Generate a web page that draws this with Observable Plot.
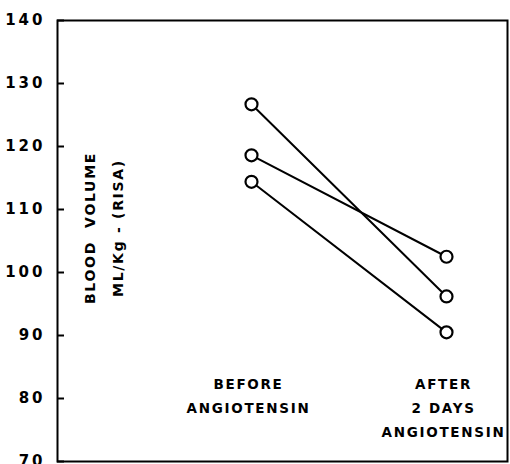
<!DOCTYPE html>
<html>
<head>
<meta charset="utf-8">
<script src="https://cdn.jsdelivr.net/npm/d3@7"></script>
<script src="https://cdn.jsdelivr.net/npm/@observablehq/plot@0.6"></script>
<style>
  html, body { margin: 0; padding: 0; background: #fff; }
</style>
</head>
<body>
<div id="chart"></div>
<script>
const categories = ["BEFORE", "AFTER"];
const categoryLabels = ["BEFORE\nANGIOTENSIN", "AFTER\n2 DAYS\nANGIOTENSIN"];
const subjects = ["A", "B", "C"];
const beforeValues = [126.7, 118.6, 114.4];
const afterValues = [96.2, 102.5, 90.5];
const yTicks = [70, 80, 90, 100, 110, 120, 130, 140];
const yTickLabels = ["70", "80", "90", "100", "110", "120", "130", "140"];
const yLabel = "BLOOD  VOLUME\nML/Kg - (RISA)";

const data = [];
subjects.forEach((s, i) => {
  data.push({subject: s, phase: categories[0], value: beforeValues[i]});
  data.push({subject: s, phase: categories[1], value: afterValues[i]});
});

const chart = Plot.plot({
  width: 510,
  height: 464,
  marginLeft: 57,
  marginTop: 20,
  marginBottom: 3,
  marginRight: 3,
  style: {fontFamily: "DejaVu Sans", fontWeight: "bold", color: "black", background: "white"},
  x: {type: "point", domain: categories, padding: 0.648, align: 0.76, axis: null, label: null},
  y: {domain: [70, 140], axis: null, label: null},
  marks: [
    Plot.frame({stroke: "black", strokeWidth: 2}),
    Plot.axisY(yTicks, {anchor: "left", tickSize: 7, dx: 7, text: null, strokeWidth: 2, label: null}),
    Plot.axisY(yTicks, {anchor: "left", tickSize: 0, tickPadding: 12, tickFormat: (d, i) => yTickLabels[i], fontSize: 15, fill: "black", label: null}),
    Plot.line(data, {x: "phase", y: "value", z: "subject", stroke: "black", strokeWidth: 2}),
    Plot.dot(data, {x: "phase", y: "value", r: 6, stroke: "black", strokeWidth: 2.2, fill: "white"}),
    Plot.text(categories, {x: d => d, text: (d, i) => categoryLabels[i], frameAnchor: "bottom", lineAnchor: "top", dx: -3, dy: -90, fontSize: 13.5, lineHeight: 1.8, fill: "black"}),
    Plot.text([yLabel], {frameAnchor: "left", textAnchor: "middle", rotate: -90, dx: 43, dy: -13, lineAnchor: "middle", fontSize: 14, lineHeight: 2.0, fill: "black"})
  ]
});

const svg = d3.select(chart);
svg.selectAll("text").attr("letter-spacing", "1.7px");
svg.selectAll("g[aria-label='y-axis tick label'] text").attr("letter-spacing", "3px");
document.getElementById("chart").appendChild(chart);
</script>
</body>
</html>
